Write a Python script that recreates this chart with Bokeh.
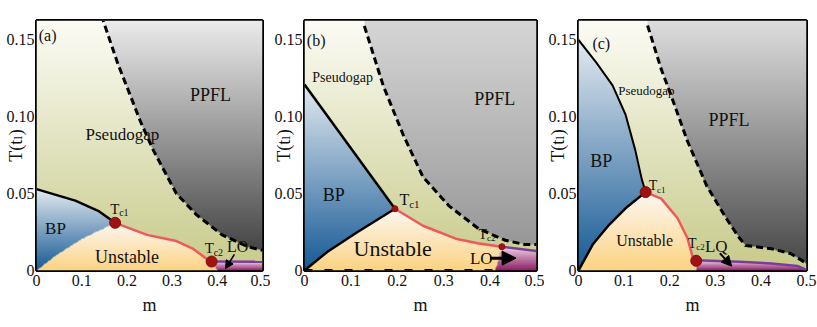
import numpy as np
from bokeh.plotting import figure
from bokeh.models import Range1d, FixedTicker, Arrow, NormalHead
from bokeh.layouts import row
from bokeh.core.properties import value
from bokeh.embed import file_html
from bokeh.resources import INLINE

FONT = "Liberation Serif, DejaVu Serif, serif"
YMAX = 0.162

x_ticks = [0, 0.1, 0.2, 0.3, 0.4, 0.5]
x_tick_labels = ["0", "0.1", "0.2", "0.3", "0.4", "0.5"]
y_ticks = [0, 0.05, 0.1, 0.15]
y_tick_labels = ["0", "0.05", "0.10", "0.15"]

# ---------------- panel (a) ----------------
a_dash_m = [0.1436, 0.1797, 0.2302, 0.259, 0.3095, 0.3528, 0.4105, 0.4683, 0.5]
a_dash_T = [0.1653, 0.1342, 0.0964, 0.0776, 0.0498, 0.0364, 0.0231, 0.0153, 0.0131]
a_bpu_m = [0.0, 0.0859, 0.1364, 0.1739]
a_bpu_T = [0.0527, 0.0453, 0.0387, 0.0309]
a_bpl_m = [0.0, 0.0426, 0.1003, 0.1739]
a_bpl_T = [0.0, 0.0098, 0.0204, 0.0309]
a_red_m = [0.1739, 0.2446, 0.3095, 0.3456, 0.3709, 0.3874]
a_red_T = [0.0309, 0.0231, 0.0191, 0.0142, 0.0087, 0.0058]
a_lo_m = [0.3874, 0.5]
a_lo_T = [0.0058, 0.0056]
a_lo_foot = 0.400

# ---------------- panel (b) ----------------
b_dash_m = [0.129, 0.170, 0.2128, 0.2553, 0.312, 0.3759, 0.4326, 0.4752, 0.5]
b_dash_T = [0.1584, 0.1195, 0.0879, 0.0606, 0.0417, 0.0269, 0.0196, 0.0168, 0.0168]
b_bpu_m = [0.0, 0.195]
b_bpu_T = [0.1205, 0.040]
b_bpl_m = [0.0, 0.0496, 0.1135, 0.195]
b_bpl_T = [0.0, 0.0122, 0.0248, 0.040]
b_red_m = [0.195, 0.2553, 0.3262, 0.3759, 0.4255]
b_red_T = [0.040, 0.029, 0.0206, 0.0175, 0.0154]
b_lo_m = [0.4255, 0.5]
b_lo_T = [0.0154, 0.0126]
b_lo_foot = 0.4113
b_base_m = [0.0, 0.4113]
b_base_T = [0.0, 0.0]

# ---------------- panel (c) ----------------
c_dash_m = [0.1515, 0.1814, 0.2027, 0.2383, 0.2809, 0.3236, 0.3521, 0.3663, 0.4232, 0.4659, 0.5]
c_dash_T = [0.1588, 0.1305, 0.1137, 0.0843, 0.055, 0.034, 0.0214, 0.0162, 0.0141, 0.0109, 0.0046]
c_bpu_m = [0.0, 0.0391, 0.0747, 0.1031, 0.1245, 0.1387, 0.1472]
c_bpu_T = [0.1494, 0.1347, 0.120, 0.1011, 0.078, 0.0592, 0.0508]
c_bpl_m = [0.0, 0.032, 0.0676, 0.1031, 0.1472]
c_bpl_T = [0.0, 0.0172, 0.0298, 0.0403, 0.0508]
c_red_m = [0.1472, 0.1814, 0.2169, 0.2383, 0.2525, 0.2582]
c_red_T = [0.0508, 0.0466, 0.034, 0.0214, 0.0067, 0.0063]
c_lo_m = [0.2582, 0.3521, 0.4232, 0.4801, 0.5]
c_lo_T = [0.0067, 0.0057, 0.0046, 0.0029, 0.0004]
c_lo_foot = 0.259

PG_BOT, PG_TOP = (200, 203, 138), (252, 252, 246)
BP_BOT, BP_TOP = (22, 90, 150), (228, 234, 240)
UN_BOT, UN_TOP = (252, 211, 131), (252, 248, 242)
LO_BOT, LO_TOP = (140, 30, 100), (240, 212, 230)


def grad(T, lo, hi, cb, ct):
    t = np.clip((T - lo) / (hi - lo), 0, 1)[..., None]
    return np.array(cb, float) + (np.array(ct, float) - np.array(cb, float)) * t


def phase_image(dash_m, dash_T, bpu_m, bpu_T, bpl_m, bpl_T, red_m, red_T,
                lo_m, lo_T, lo_foot, ppfl_top, ppfl_bot, nx=400, ny=440):
    mm = (np.arange(nx) + 0.5) / nx * 0.5
    tt = (np.arange(ny) + 0.5) / ny * YMAX
    M, TT = np.meshgrid(mm, tt)
    D = np.where(M >= dash_m[0], np.interp(M, dash_m, dash_T), np.inf)
    ppfl = TT > D
    tc1m, tc1T = red_m[0], red_T[0]
    tc2m, tc2T = red_m[-1], red_T[-1]
    L = np.interp(M, bpl_m, bpl_T)
    U = np.interp(M, bpu_m, bpu_T)
    bp = (M <= tc1m) & (TT > L) & (TT < U) & ~ppfl
    mb = lo_foot + (tc2m - lo_foot) * np.clip(TT / tc2T, 0, 1)
    P = np.interp(M, lo_m, lo_T)
    lo = (M > mb) & (TT < P) & ~ppfl
    R = np.interp(M, red_m, red_T)
    un = ~ppfl & ~bp & ~lo & (((M <= tc1m) & (TT <= L)) |
                              ((M > tc1m) & (M <= tc2m) & (TT < R)) |
                              ((M > tc2m) & (M < mb) & (TT < tc2T)))
    rgb = grad(TT, 0, YMAX, PG_BOT, PG_TOP)
    rgb = np.where(ppfl[..., None], grad(TT, min(dash_T), YMAX, ppfl_bot, ppfl_top), rgb)
    rgb = np.where(bp[..., None], grad(TT, 0, max(bpu_T), BP_BOT, BP_TOP), rgb)
    rgb = np.where(un[..., None], grad(TT, 0, tc1T, UN_BOT, UN_TOP), rgb)
    rgb = np.where(lo[..., None], grad(TT, 0, max(lo_T), LO_BOT, LO_TOP), rgb)
    img = np.empty((ny, nx), dtype=np.uint32)
    view = img.view(dtype=np.uint8).reshape((ny, nx, 4))
    view[..., :3] = np.clip(rgb, 0, 255).astype(np.uint8)
    view[..., 3] = 255
    return img


def make_fig(fw, bl, br):
    p = figure(frame_width=fw, frame_height=250, x_range=Range1d(0, 0.5),
               y_range=Range1d(0, YMAX), output_backend="svg", toolbar_location=None,
               min_border_left=bl, min_border_right=br, min_border_top=20,
               min_border_bottom=40, background_fill_color="white")
    p.grid.visible = False
    p.outline_line_color = "black"
    p.outline_line_width = 3
    p.xaxis.ticker = FixedTicker(ticks=x_ticks)
    p.xaxis.major_label_overrides = dict(zip(x_ticks, x_tick_labels))
    p.yaxis.ticker = FixedTicker(ticks=y_ticks)
    p.yaxis.major_label_overrides = dict(zip(y_ticks, y_tick_labels))
    for ax in (p.xaxis[0], p.yaxis[0]):
        ax.axis_line_color = None
        ax.major_tick_line_color = None
        ax.minor_tick_line_color = None
        ax.major_tick_in = 0
        ax.major_tick_out = 0
        ax.major_label_text_font = FONT
        ax.major_label_text_font_size = "16px"
        ax.major_label_text_color = "#111"
        ax.axis_label_text_font = FONT
        ax.axis_label_text_font_style = "normal"
        ax.axis_label_text_font_size = "18px"
        ax.axis_label_text_color = "#111"
    p.xaxis.major_label_standoff = 4
    p.yaxis.major_label_standoff = 2
    p.xaxis.axis_label = "m"
    p.xaxis.axis_label_standoff = 6
    p.yaxis.axis_label = "T(t\u2097)"
    p.yaxis.axis_label_standoff = -22
    return p


def txt(p, x, y, s, size, align="center", x_off=0, y_off=0, baseline="middle"):
    p.text(x=[x], y=[y], text=[s], text_font=value(FONT), text_font_size=f"{size}px",
           text_align=align, text_baseline=baseline, x_offset=x_off, y_offset=y_off,
           text_color="#111")


def tlabel(p, x, y, sub, size=15, subsize=10):
    txt(p, x, y, "T", size, align="left")
    txt(p, x, y, sub, subsize, align="left", x_off=size * 0.6, y_off=4)


def boundaries(p, dash_m, dash_T, bpu_m, bpu_T, bpl_m, bpl_T, red_m, red_T, lo_m, lo_T,
               draw_bpl=True, tc_size=11, bpu_w=2.5):
    p.line(dash_m, dash_T, line_color="black", line_width=3, line_dash="7 4")
    p.line(bpu_m, bpu_T, line_color="black", line_width=bpu_w)
    if draw_bpl:
        p.line(bpl_m, bpl_T, line_color="black", line_width=2.5)
    p.line(lo_m, lo_T, line_color="#7a3d9e", line_width=2.5)
    p.line(red_m, red_T, line_color="#f0585a", line_width=2.5)
    p.scatter([red_m[0], red_m[-1]], [red_T[0], red_T[-1]], size=tc_size,
              fill_color="#a11212", line_color="#8a0c0c")


# ---------- (a) ----------
pa = make_fig(226, 36, 8)
pa.image_rgba(image=[phase_image(a_dash_m, a_dash_T, a_bpu_m, a_bpu_T, a_bpl_m, a_bpl_T,
                                 a_red_m, a_red_T, a_lo_m, a_lo_T, a_lo_foot,
                                 (236, 236, 236), (70, 70, 70))],
              x=0, y=0, dw=0.5, dh=YMAX)
boundaries(pa, a_dash_m, a_dash_T, a_bpu_m, a_bpu_T, a_bpl_m, a_bpl_T, a_red_m, a_red_T,
           a_lo_m, a_lo_T, draw_bpl=False)
txt(pa, 0.005, 0.152, "(a)", 16, align="left")
txt(pa, 0.385, 0.114, "PPFL", 18)
txt(pa, 0.19, 0.088, "Pseudogap", 17)
txt(pa, 0.042, 0.027, "BP", 17)
txt(pa, 0.20, 0.0087, "Unstable", 18)
tlabel(pa, 0.163, 0.040, "c1")
tlabel(pa, 0.372, 0.0145, "c2")
txt(pa, 0.445, 0.0155, "LO", 16)
pa.add_layout(Arrow(end=NormalHead(size=8, fill_color="black", line_color="black"),
                    x_start=0.438, y_start=0.0105, x_end=0.418, y_end=0.0012,
                    line_color="black", line_width=1.5))

# ---------- (b) ----------
pb = make_fig(232, 28, 8)
pb.image_rgba(image=[phase_image(b_dash_m, b_dash_T, b_bpu_m, b_bpu_T, b_bpl_m, b_bpl_T,
                                 b_red_m, b_red_T, b_lo_m, b_lo_T, b_lo_foot,
                                 (214, 214, 214), (152, 152, 152))],
              x=0, y=0, dw=0.5, dh=YMAX)
pb.line(b_base_m, b_base_T, line_color="black", line_width=3, line_dash="8 12")
boundaries(pb, b_dash_m, b_dash_T, b_bpu_m, b_bpu_T, b_bpl_m, b_bpl_T, b_red_m, b_red_T,
           b_lo_m, b_lo_T, tc_size=6)
txt(pb, 0.005, 0.149, "(b)", 16, align="left")
txt(pb, 0.082, 0.125, "Pseudogap", 14)
txt(pb, 0.41, 0.111, "PPFL", 18)
txt(pb, 0.063, 0.049, "BP", 18)
txt(pb, 0.19, 0.0145, "Unstable", 22)
tlabel(pb, 0.205, 0.046, "c1", 16, 11)
tlabel(pb, 0.375, 0.0235, "c2", 14, 9)
txt(pb, 0.381, 0.0078, "LO", 17)
pb.add_layout(Arrow(end=NormalHead(size=14, fill_color="black", line_color="black"),
                    x_start=0.400, y_start=0.0080, x_end=0.456, y_end=0.0080,
                    line_color="black", line_width=3))

# ---------- (c) ----------
pc = make_fig(228, 28, 12)
pc.image_rgba(image=[phase_image(c_dash_m, c_dash_T, c_bpu_m, c_bpu_T, c_bpl_m, c_bpl_T,
                                 c_red_m, c_red_T, c_lo_m, c_lo_T, c_lo_foot,
                                 (222, 222, 222), (74, 74, 74))],
              x=0, y=0, dw=0.5, dh=YMAX)
boundaries(pc, c_dash_m, c_dash_T, c_bpu_m, c_bpu_T, c_bpl_m, c_bpl_T, c_red_m, c_red_T,
           c_lo_m, c_lo_T, bpu_w=2)
txt(pc, 0.05, 0.147, "(c)", 16)
txt(pc, 0.149, 0.1165, "Pseudogap", 13)
txt(pc, 0.33, 0.0975, "PPFL", 18)
txt(pc, 0.05, 0.0707, "BP", 18)
txt(pc, 0.145, 0.0193, "Unstable", 16)
tlabel(pc, 0.154, 0.055, "c1", 14, 9)
tlabel(pc, 0.240, 0.0175, "c2", 14, 9)
txt(pc, 0.302, 0.0155, "LQ", 17)
pc.add_layout(Arrow(end=NormalHead(size=10, fill_color="black", line_color="black"),
                    x_start=0.310, y_start=0.0112, x_end=0.336, y_end=0.0028,
                    line_color="black", line_width=2))

layout = row(pa, pb, pc)
open("out.html", "w").write(file_html(layout, INLINE))
